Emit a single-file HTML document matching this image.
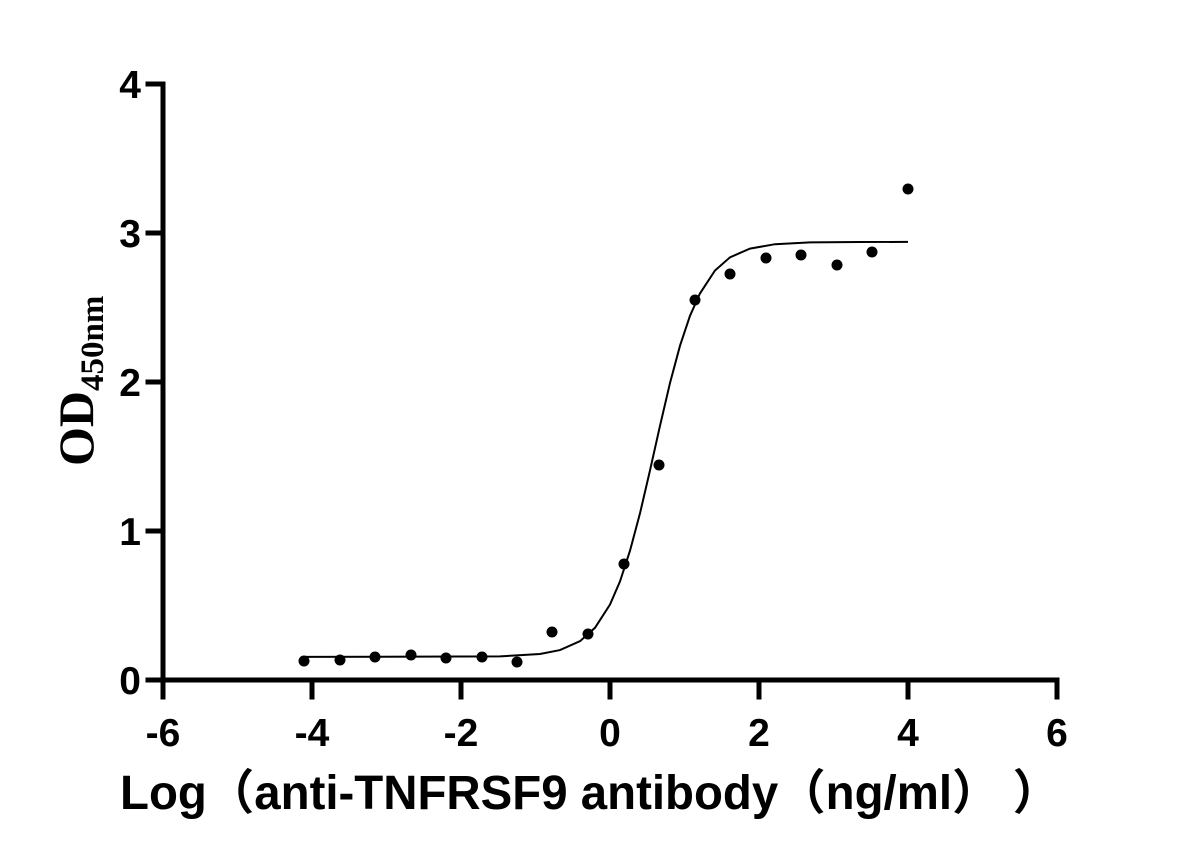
<!DOCTYPE html>
<html><head><meta charset="utf-8"><style>body{margin:0;background:#fff}svg{display:block}</style></head>
<body>
<svg width="1193" height="863" xmlns="http://www.w3.org/2000/svg">
<rect width="1193" height="863" fill="#fff"/>
<g stroke="#000" stroke-width="5" fill="none" stroke-linecap="square">
<line x1="163" y1="84" x2="163" y2="680"/>
<line x1="163" y1="680" x2="1057" y2="680"/>
<line x1="148" y1="84" x2="163" y2="84"/>
<line x1="148" y1="233" x2="163" y2="233"/>
<line x1="148" y1="382" x2="163" y2="382"/>
<line x1="148" y1="531" x2="163" y2="531"/>
<line x1="148" y1="680" x2="163" y2="680"/>
<line x1="163" y1="680" x2="163" y2="697"/>
<line x1="312" y1="680" x2="312" y2="697"/>
<line x1="461" y1="680" x2="461" y2="697"/>
<line x1="610" y1="680" x2="610" y2="697"/>
<line x1="759" y1="680" x2="759" y2="697"/>
<line x1="908" y1="680" x2="908" y2="697"/>
<line x1="1057" y1="680" x2="1057" y2="697"/>
</g>
<g font-family="Liberation Sans, sans-serif" font-weight="bold" font-size="39" text-anchor="end">
<text x="141" y="98">4</text><text x="141" y="247">3</text><text x="141" y="396">2</text><text x="141" y="545">1</text><text x="141" y="694">0</text>
</g>
<g font-family="Liberation Sans, sans-serif" font-weight="bold" font-size="39" text-anchor="middle">
<text x="163" y="746">-6</text><text x="312" y="746">-4</text><text x="461" y="746">-2</text><text x="610" y="746">0</text><text x="759" y="746">2</text><text x="908" y="746">4</text><text x="1057" y="746">6</text>
</g>
<text x="120" y="809" font-family="Liberation Sans, 'Noto Sans CJK SC', sans-serif" font-weight="bold" font-size="48" textLength="940" lengthAdjust="spacingAndGlyphs">Log（anti-TNFRSF9 antibody（ng/ml）  ）</text>
<text transform="translate(93,466) rotate(-90)" font-family="Liberation Serif, serif" font-weight="bold" font-size="50">OD<tspan font-size="33" dy="10">450nm</tspan></text>
<path fill="none" stroke="#000" stroke-width="2" d="M304 656.9 L500 656.4 L540 654.0 L560 650.1 L580 641.2 L595 627.8 L610 604.5 L620 581.4 L630 550.7 L640 513.3 L650 470.4 L660 425.8 L670 383.0 L680 345.7 L690 315.8 L700 293.4 L715 270.5 L730 257.3 L750 248.6 L775 244.2 L810 242.4 L860 242.0 L908 241.9"/>
<g fill="#000">
<circle cx="304" cy="661" r="5.5"/><circle cx="340" cy="660" r="5.5"/><circle cx="375" cy="657" r="5.5"/><circle cx="411" cy="655" r="5.5"/><circle cx="446" cy="658" r="5.5"/><circle cx="482" cy="657" r="5.5"/><circle cx="517" cy="662" r="5.5"/><circle cx="552" cy="632" r="5.5"/><circle cx="588" cy="634" r="5.5"/><circle cx="624" cy="564" r="5.5"/><circle cx="659" cy="465" r="5.5"/><circle cx="695" cy="300" r="5.5"/><circle cx="730" cy="274" r="5.5"/><circle cx="766" cy="258" r="5.5"/><circle cx="801" cy="255" r="5.5"/><circle cx="837" cy="265" r="5.5"/><circle cx="872" cy="252" r="5.5"/><circle cx="908" cy="189" r="5.5"/>
</g>
</svg>
</body></html>
